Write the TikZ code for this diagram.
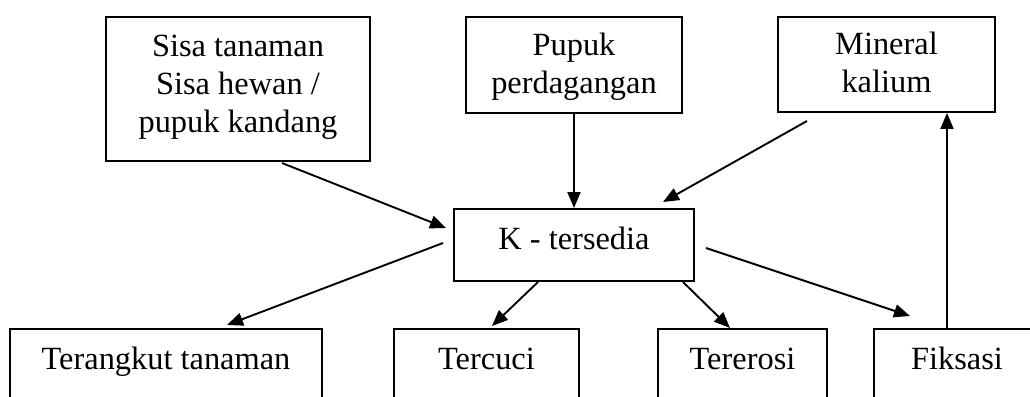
\documentclass[tikz,border=0pt]{standalone}
\usepackage{fontspec}
\setmainfont{Liberation Serif}
\usetikzlibrary{arrows.meta}
\newcommand{\sr}[2]{\rule[-#2pt]{0pt}{\dimexpr #1pt + #2pt\relax}}
\begin{document}
\begin{tikzpicture}[x=1pt,y=-1pt,
  box/.style={draw,line width=1.9pt,inner sep=0pt,align=center,font=\fontsize{32.4}{38}\selectfont},
  conn/.style={line width=1.9pt,-{Triangle[length=16pt,width=13pt]}}]
\useasboundingbox (0,0) rectangle (1030,396);
\node[box,minimum width=264pt,minimum height=144pt] (sisa) at (238,89) {\sr{24}{0}Sisa tanaman\\Sisa hewan /\\pupuk kandang\sr{0}{14}};
\node[box,minimum width=216pt,minimum height=96pt] (pupuk) at (574,65) {\sr{26}{0}Pupuk\\perdagangan\sr{0}{8}};
\node[box,minimum width=217pt,minimum height=95pt] (mineral) at (886.5,64.5) {\sr{26}{0}Mineral\\kalium\sr{0}{8}};
\node[box,minimum width=240pt,minimum height=72pt] (k) at (574,245) {\sr{24}{16}K - tersedia};
\node[box,minimum width=312pt,minimum height=72pt] (angkut) at (166,365) {\sr{24}{16}Terangkut tanaman};
\node[box,minimum width=185pt,minimum height=72pt] (cuci) at (486.5,365) {\sr{24}{16}Tercuci};
\node[box,minimum width=169pt,minimum height=72pt] (erosi) at (742.5,365) {\sr{24}{16}Tererosi};
\node[box,minimum width=166pt,minimum height=72pt] (fiksasi) at (957,365) {\sr{24}{16}Fiksasi};
% connector end points
\coordinate (s1) at (282,163);
\coordinate (s2) at (446,228);
\coordinate (m1) at (807,121);
\coordinate (m2) at (663,202);
\coordinate (a1) at (443,243);
\coordinate (a2) at (227,325);
\coordinate (c1) at (538,282);
\coordinate (c2) at (492,326);
\coordinate (e1) at (683,282);
\coordinate (e2) at (730,328);
\coordinate (f1) at (706,248);
\coordinate (f2) at (910,316);
\draw[conn] (s1) -- (s2);
\draw[conn] (pupuk.south) -- (k.north);
\draw[conn] (m1) -- (m2);
\draw[conn] (a1) -- (a2);
\draw[conn] (c1) -- (c2);
\draw[conn] (e1) -- (e2);
\draw[conn] (f1) -- (f2);
\draw[conn] (fiksasi.north -| 947,0) -- (mineral.south -| 947,0);
\end{tikzpicture}
\end{document}
